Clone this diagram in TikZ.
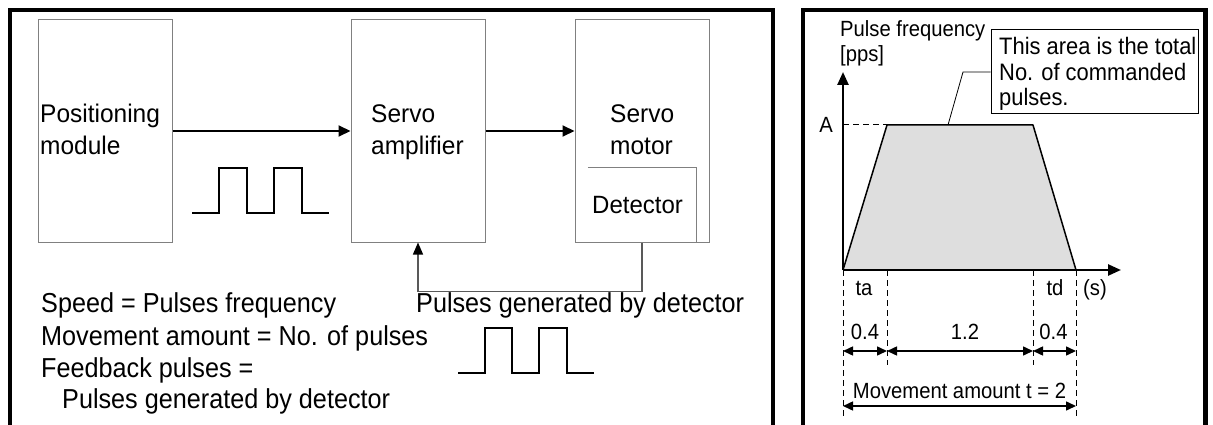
\documentclass[tikz,border=0pt]{standalone}
\usepackage{fontspec}
\setmainfont{Liberation Sans}
\newfontfamily\boxf{Liberation Sans}[FakeStretch=0.96]
\newfontfamily\narrowfont{Liberation Sans}[FakeStretch=0.92]
\usetikzlibrary{arrows.meta}
\begin{document}
\begin{tikzpicture}[x=1pt,y=-1pt,
  frame/.style={line width=4.5pt},
  block/.style={draw=black!50, line width=1pt, minimum width=134pt, minimum height=222pt, inner sep=0pt},
  boxtxt/.style={font=\boxf\fontsize{25.5}{28}\selectfont, inner sep=0pt, anchor=base west},
  lowtxt/.style={font=\narrowfont\fontsize{27.4}{32}\selectfont, inner sep=0pt, anchor=base west},
  chtxt/.style={font=\narrowfont\fontsize{22}{25}\selectfont, inner sep=0pt, anchor=base west},
  chlbl/.style={font=\narrowfont\fontsize{22}{25}\selectfont, inner sep=0pt, anchor=base},
  mainarr/.style={line width=2pt, -{Triangle[length=12pt,width=11pt]}},
  fbarr/.style={draw=black!65, line width=1.2pt, -{Triangle[length=12pt,width=10pt,color=black]}},
  pulse/.style={line width=1.8pt},
  axisarr/.style={line width=2.5pt, -{Triangle[length=13pt,width=11pt]}},
  dsh/.style={line width=1pt, dash pattern=on 6pt off 4pt},
  dimarr/.style={line width=1.5pt, {Triangle[length=10pt,width=9pt]}-{Triangle[length=10pt,width=9pt]}},
]
\useasboundingbox (0,0) rectangle (1213,425);
% frames
\draw[frame] (10,425) -- (10,10) -- (773,10) -- (773,425);
\draw[frame] (803,425) -- (803,10) -- (1205.5,10) -- (1205.5,425);

% blocks
\node[block] (pm) at (105,131) {};
\node[block] (sa) at (418,131) {};
\node[block] (sm) at (642,131) {};
\node[inner sep=0pt, minimum width=108pt, minimum height=74pt] (det) at (642,205) {};
\draw[draw=black!50, line width=1pt] (det.north west) -- (det.north east) -- (det.south east);

\node[boxtxt] (pm1) at (40,123) {Positioning};
\node[boxtxt] (pm2) at (40,155) {module};
\node[boxtxt] (sa1) at (371,123) {Servo};
\node[boxtxt] (sa2) at (371,155) {amplifier};
\node[boxtxt] (sm1) at (610,123) {Servo};
\node[boxtxt] (sm2) at (610,155) {motor};
\node[boxtxt, font=\boxf\fontsize{25}{28}\selectfont] (dt) at (592,213) {Detector};

\draw[mainarr] (pm.east) -- (sa.west);
\draw[mainarr] (sa.east) -- (sm.west);
\draw[fbarr] (sm.south) -- ++(0,49) -| (sa.south);

% pulse trains
\draw[pulse] (192,213) -- (219,213) -- (219,168) -- (247,168) -- (247,213) -- (274,213) -- (274,168) -- (302,168) -- (302,213) -- (329,213);
\draw[pulse] (458,373) -- (485,373) -- (485,328) -- (512,328) -- (512,373) -- (539,373) -- (539,328) -- (567,328) -- (567,373) -- (594,373);

% texts
\node[lowtxt] (l1) at (41,312) {Speed = Pulses frequency};
\node[lowtxt] (l2) at (41,345) {Movement amount = No. of pulses};
\node[lowtxt] (l3) at (41,377) {Feedback pulses =};
\node[lowtxt] (l4) at (62,408) {Pulses generated by detector};
\node[lowtxt] (fbl) at (416,312) {Pulses generated by detector};

% chart
\coordinate (O) at (843,270);
\coordinate (ytip) at (843,72);
\coordinate (xtip) at (1121,270);
\coordinate (T1) at (887,125);
\coordinate (T2) at (1033,125);
\coordinate (E) at (1076,270);
\draw[fill=black!13, line width=1.5pt, line join=round] (O) -- (T1) -- (T2) -- (E);
\draw[axisarr] (O) -- (ytip);
\draw[axisarr] (O) -- (xtip);
\draw[dsh] (O |- T1) -- (T1);
\node[chlbl, anchor=east] (A) at (833,125) {A};
\node[chtxt] (pf1) at (840,37) {Pulse frequency};
\node[chtxt] (pf2) at (840,62) {[pps]};

\node[draw, line width=1pt, minimum width=207pt, minimum height=84pt, inner sep=0pt] (co) at (1094.5,72) {};
\node[chtxt, font=\narrowfont\fontsize{23.8}{25}\selectfont] (c1) at (999,55) {This area is the total};
\node[chtxt, font=\narrowfont\fontsize{23.8}{25}\selectfont] (c2) at (999,81) {No. of commanded};
\node[chtxt, font=\narrowfont\fontsize{23.8}{25}\selectfont] (c3) at (999,106) {pulses.};
\coordinate (lk) at (963,72);
\coordinate (le) at (948,125);
\draw[line width=0.8pt] (co.west) -- (lk) -- (le);

% dashed extension lines
\coordinate (B0) at (843,418);
\coordinate (B1) at (887,365);
\coordinate (B2) at (1033,365);
\coordinate (B3) at (1076,418);
\draw[dsh] (O) -- (B0);
\draw[dsh] (T1 |- O) -- (B1);
\draw[dsh] (T2 |- O) -- (B2);
\draw[dsh] (E) -- (B3);

\node[chlbl] (ta) at (864,295) {ta};
\node[chlbl] (td) at (1055,295) {td};
\node[chlbl] (sec) at (1095,295) {(s)};
\node[chlbl] (d1) at (865,339) {0.4};
\node[chlbl] (d2) at (965,339) {1.2};
\node[chlbl] (d3) at (1053.5,339) {0.4};

\coordinate (m0) at (843,351);
\coordinate (m1) at (887,351);
\coordinate (m2) at (1033,351);
\coordinate (m3) at (1076,351);
\draw[dimarr] (m0) -- (m1);
\draw[dimarr] (m1) -- (m2);
\draw[dimarr] (m2) -- (m3);

\node[chlbl] (mv) at (959.5,398) {Movement amount t = 2};
\coordinate (n0) at (843,406);
\coordinate (n1) at (1076,406);
\draw[dimarr] (n0) -- (n1);
\end{tikzpicture}
\end{document}
